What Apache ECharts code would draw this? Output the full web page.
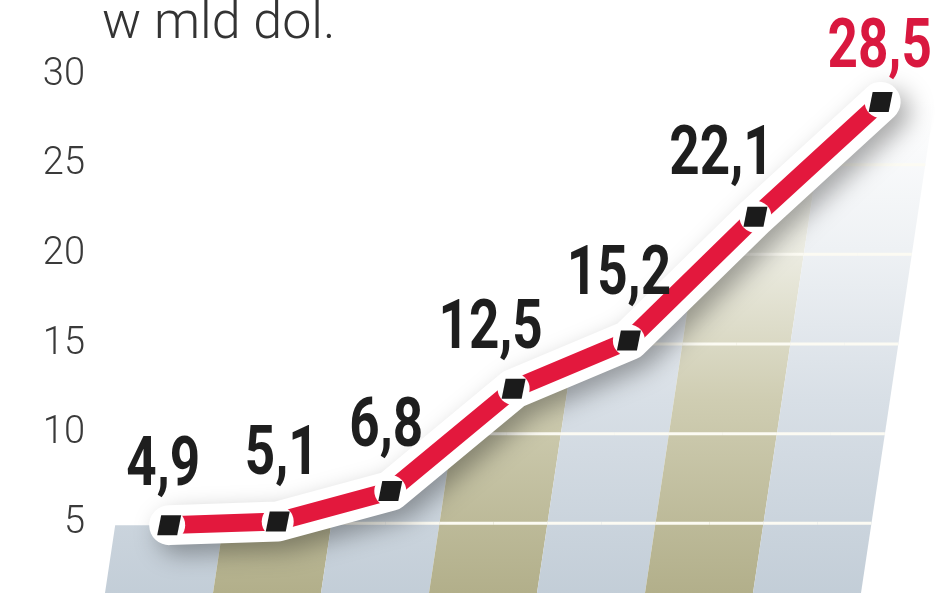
<!DOCTYPE html>
<html>
<head>
<meta charset="utf-8">
<script src="https://cdn.jsdelivr.net/npm/echarts@6/dist/echarts.min.js"></script>
<style>html,body{margin:0;padding:0;background:#fff}#c{width:948px;height:593px}</style>
</head>
<body>
<div id="c"></div>
<script>
// ---- data ----
const categories = ['1', '2', '3', '4', '5', '6', '7'];
const values = [4.9, 5.1, 6.8, 12.5, 15.2, 22.1, 28.5];
const valueLabels = ['4,9', '5,1', '6,8', '12,5', '15,2', '22,1', '28,5'];
const yTicks = [0, 5, 10, 15, 20, 25, 30];
const unitTitle = 'w mld dol.';

// ---- styling ----
const SHEAR = 0.15;
const labelDx = [-6, 4, -4, -23, -10, -34, -1];
const labelDy = [33, 40, 38, 34, 39, 35, 28];   // distance from point up to the digits' baseline
const labelColors = ['#1e1e1e', '#1e1e1e', '#1e1e1e', '#1e1e1e', '#1e1e1e', '#1e1e1e', '#d9183f'];
const LABEL_SIZE = 68, LABEL_SCALE = 0.78, CAP = 0.711;
const colBlue = {type: 'linear', x: 0, y: 100, x2: 0, y2: 600, global: true,
  colorStops: [{offset: 0, color: '#ffffff'}, {offset: 0.3, color: '#eef1f4'}, {offset: 0.6, color: '#d8dfe6'}, {offset: 1, color: '#c2cdd7'}]};
const colOlive = {type: 'linear', x: 0, y: 100, x2: 0, y2: 600, global: true,
  colorStops: [{offset: 0, color: '#ffffff'}, {offset: 0.3, color: '#ececE2'}, {offset: 0.6, color: '#cfcdb2'}, {offset: 1, color: '#b1ae89'}]};

const n = values.length;
const chart = echarts.init(document.getElementById('c'));

function shearFn(api) {
  const y0 = api.coord([0, 0])[1];
  return p => [p[0] + SHEAR * (y0 - p[1]), p[1]];
}

function renderBg(params, api) {
  const i = params.dataIndex;
  const sh = shearFn(api);
  const bw = api.size([1, 0])[0];
  const y0 = api.coord([0, 0])[1];
  const c = api.coord([i, values[i]]);
  const vL = i > 0 ? (values[i - 1] + values[i]) / 2 : values[i];
  const vR = i < n - 1 ? (values[i] + values[i + 1]) / 2 : values[i];
  const uL = c[0] - bw / 2, uR = c[0] + bw / 2;
  const yL = api.coord([i, vL])[1], yR = api.coord([i, vR])[1];
  const poly = [[uL, y0], [uL, yL], [c[0], c[1]], [uR, yR], [uR, y0]].map(sh);
  const children = [{
    type: 'polygon', shape: {points: poly},
    style: {fill: i % 2 === 0 ? colBlue : colOlive}, z2: 1
  }];
  const halves = [[uL, vL, c[0], values[i]], [c[0], values[i], uR, vR]];
  yTicks.forEach(t => {
    if (t <= 0) return;
    const ty = api.coord([0, t])[1];
    halves.forEach(h => {
      const [ua, va, ub, vb] = h;
      let s = null, e = null;
      if (va > t && vb > t) { s = ua; e = ub; }
      else if (va > t || vb > t) {
        const um = ua + (t - va) / (vb - va) * (ub - ua);
        if (va > t) { s = ua; e = um; } else { s = um; e = ub; }
      }
      if (s !== null) {
        const a = sh([s, ty]), b = sh([e, ty]);
        children.push({type: 'line', shape: {x1: a[0], y1: a[1], x2: b[0], y2: b[1]},
          style: {stroke: '#fcfbf3', lineWidth: 3}, z2: 2});
      }
    });
  });
  return {type: 'group', children};
}

// the white-outlined red line (drawn once, from all values)
function renderPath(params, api) {
  if (params.dataIndex !== 0) return null;
  const sh = shearFn(api);
  const pts = values.map((v, k) => sh(api.coord([k, v])));
  return {type: 'group', children: [
    {type: 'polyline', shape: {points: pts}, z2: 1,
      style: {stroke: '#ffffff', lineWidth: 40, lineCap: 'round', lineJoin: 'round', fill: null,
        shadowBlur: 24, shadowColor: 'rgba(0,0,0,0.34)', shadowOffsetX: 9, shadowOffsetY: 9}},
    {type: 'polyline', shape: {points: pts}, z2: 2,
      style: {stroke: '#e3183d', lineWidth: 18, lineCap: 'butt', lineJoin: 'round', fill: null}}
  ]};
}

// markers and value labels
function renderMarks(params, api) {
  const i = params.dataIndex;
  const sh = shearFn(api);
  const p = sh(api.coord([i, values[i]]));
  const hw = 10, hh = 10, k = 0.2;
  return {type: 'group', children: [
    {type: 'circle', shape: {cx: p[0], cy: p[1], r: 16}, style: {fill: '#ffffff'}, z2: 1},
    {type: 'polygon', z2: 2, shape: {points: [
      [p[0] - hw + k * hh, p[1] - hh], [p[0] + hw + k * hh, p[1] - hh],
      [p[0] + hw - k * hh, p[1] + hh], [p[0] - hw - k * hh, p[1] + hh]]},
      style: {fill: '#1b1b1b'}},
    {type: 'text', z2: 3,
      x: p[0] + labelDx[i], y: p[1] - labelDy[i] - LABEL_SIZE * CAP / 2,
      scaleX: LABEL_SCALE,
      style: {
        text: valueLabels[i], x: 0, y: 0,
        align: 'center', verticalAlign: 'middle',
        fontFamily: 'Roboto', fontWeight: 'bold', fontSize: LABEL_SIZE, fill: labelColors[i]}}
  ]};
}

const seriesData = values.map((v, i) => [i, v]);

chart.setOption({
  animation: false,
  title: {text: unitTitle, left: 97, top: -6,
    textStyle: {fontFamily: 'Roboto', fontWeight: 300, fontSize: 52, color: '#333'}},
  grid: {left: 102, top: 75, width: 756, height: 538, containLabel: false, outerBoundsMode: 'none'},
  xAxis: {type: 'category', data: categories, show: false},
  yAxis: {type: 'value', min: 0, max: 30, interval: 5,
    axisLine: {show: false}, axisTick: {show: false}, splitLine: {show: false},
    axisLabel: {margin: 17, fontFamily: 'Roboto', fontWeight: 300, fontSize: 38, color: '#3a3a3a'}},
  series: [
    {type: 'custom', coordinateSystem: 'cartesian2d', data: seriesData, encode: {x: 0, y: 1},
      renderItem: renderBg, z: 1, silent: true},
    {type: 'custom', coordinateSystem: 'cartesian2d', data: seriesData, encode: {x: 0, y: 1},
      renderItem: renderPath, z: 4, silent: true},
    {type: 'custom', coordinateSystem: 'cartesian2d', data: seriesData, encode: {x: 0, y: 1},
      renderItem: renderMarks, z: 6, silent: true}
  ]
});
</script>
</body>
</html>
